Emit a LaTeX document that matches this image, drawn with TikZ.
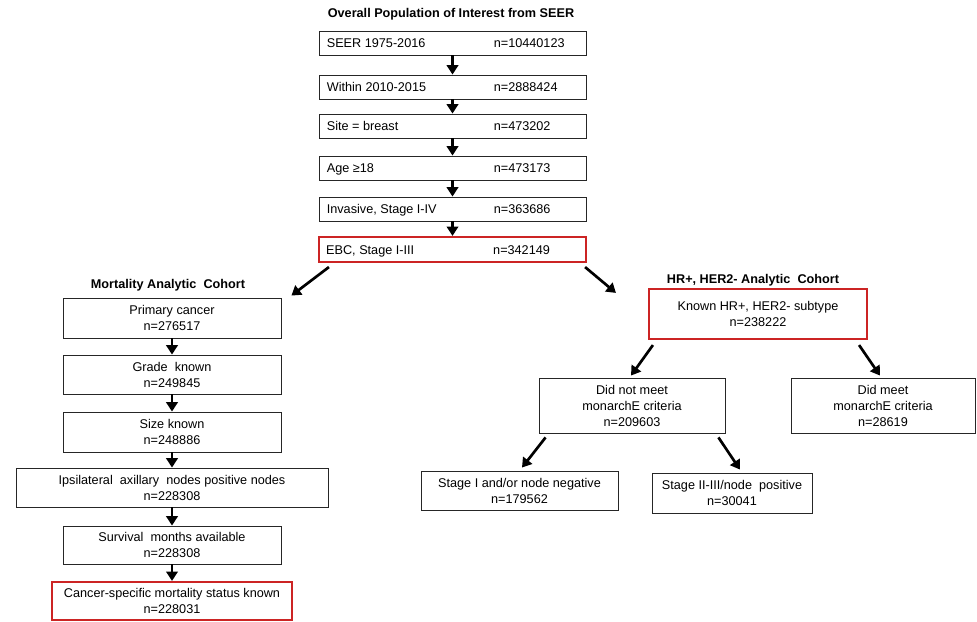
\documentclass[tikz,border=0pt]{standalone}
\usepackage{fontspec}
\setmainfont{Liberation Sans}
\usepackage{xcolor}
\definecolor{seerred}{RGB}{204,36,36}
\usetikzlibrary{arrows.meta, positioning, calc}
\newcommand{\px}{0.75pt}

\begin{document}
\begin{tikzpicture}[x=0.75pt, y=-0.75pt,
  font=\fontsize{9.5}{12}\selectfont,
  box/.style={draw=black!85, line width=0.65pt, inner sep=0pt, align=center},
  redbox/.style={box, draw=seerred, line width=1.6pt},
  cohort/.style={font=\fontsize{9.5}{12}\selectfont\bfseries, inner sep=0pt},
  lt/.style={anchor=base west, inner sep=0pt},
  arr/.style={-{Triangle[length=7pt,width=8.5pt]}, line width=2pt}]
  \useasboundingbox (0,0) rectangle (977,621);

  % Overall population -- top column
  \node[cohort] (overall) at (451,14) {Overall Population of Interest from SEER};
  \node[box, minimum width=267*\px, minimum height=24*\px] (seer)   at (452.5,43)    {};
  \node[box, minimum width=267*\px, minimum height=24*\px] (within) at (452.5,87)    {};
  \node[box, minimum width=267*\px, minimum height=24*\px] (site)   at (452.5,126)   {};
  \node[box, minimum width=267*\px, minimum height=24*\px] (age)    at (452.5,168)   {};
  \node[box, minimum width=267*\px, minimum height=24*\px] (inv)    at (452.5,209)   {};
  \node[redbox, minimum width=267*\px, minimum height=25*\px] (ebc) at (452.5,249.5) {};

  \node[lt] at ($(seer.west)+(8,4.5)$)     {SEER 1975-2016};
  \node[lt] at ($(seer.west)+(175,4.5)$)   {n=10440123};
  \node[lt] at ($(within.west)+(8,4.5)$)   {Within 2010-2015};
  \node[lt] at ($(within.west)+(175,4.5)$) {n=2888424};
  \node[lt] at ($(site.west)+(8,4.5)$)     {Site = breast};
  \node[lt] at ($(site.west)+(175,4.5)$)   {n=473202};
  \node[lt] at ($(age.west)+(8,4.5)$)      {Age ≥18};
  \node[lt] at ($(age.west)+(175,4.5)$)    {n=473173};
  \node[lt] at ($(inv.west)+(8,4.5)$)      {Invasive,\ Stage I-IV};
  \node[lt] at ($(inv.west)+(175,4.5)$)    {n=363686};
  \node[lt] at ($(ebc.west)+(8,4.5)$)      {EBC, Stage I-III};
  \node[lt] at ($(ebc.west)+(175,4.5)$)    {n=342149};

  \draw[arr] (seer.south)   -- (within.north);
  \draw[arr] (within.south) -- (site.north);
  \draw[arr] (site.south)   -- (age.north);
  \draw[arr] (age.south)    -- (inv.north);
  \draw[arr] (inv.south)    -- (ebc.north);

  % Mortality analytic cohort -- left column
  \node[cohort] (mort) at (168,285) {Mortality Analytic\ \ Cohort};
  \node[box, minimum width=218*\px, minimum height=40*\px] (prim)  at (172,318)   {Primary cancer\\n=276517};
  \node[box, minimum width=218*\px, minimum height=39*\px] (grade) at (172,374.5) {Grade\ \ known\\n=249845};
  \node[box, minimum width=218*\px, minimum height=40*\px] (size)  at (172,432)   {Size known\\n=248886};
  \node[box, minimum width=312*\px, minimum height=39*\px] (ipsi)  at (172,487.5) {Ipsilateral\ \ axillary\ \ nodes positive nodes\\n=228308};
  \node[box, minimum width=218*\px, minimum height=38*\px] (surv)  at (172,545)   {Survival\ \ months available\\n=228308};
  \node[redbox, minimum width=240*\px, minimum height=38*\px] (csm) at (172,601)  {Cancer-specific mortality status known\\n=228031};

  \draw[arr] (prim.south)  -- (grade.north);
  \draw[arr] (grade.south) -- (size.north);
  \draw[arr] (size.south)  -- (ipsi.north);
  \draw[arr] (ipsi.south)  -- (surv.north);
  \draw[arr] (surv.south)  -- (csm.north);

  % HR+, HER2- analytic cohort -- right side
  \node[cohort] (hrt) at (753,280) {HR+, HER2- Analytic\ \ Cohort};
  \node[redbox, minimum width=218*\px, minimum height=50*\px] (hr) at (758,314) {Known HR+, HER2- subtype\\n=238222};
  \node[box, minimum width=186*\px, minimum height=55*\px] (dnm)  at (632,405.5) {Did not meet\\monarchE criteria\\n=209603};
  \node[box, minimum width=184*\px, minimum height=55*\px] (dm)   at (883,405.5) {Did meet\\monarchE criteria\\n=28619};
  \node[box, minimum width=197*\px, minimum height=39*\px] (st1)  at (519.5,490.5) {Stage I and/or node negative\\n=179562};
  \node[box, minimum width=160*\px, minimum height=40*\px] (st23) at (732,493) {Stage II-III/node\ \ positive\\n=30041};

  % Split arrows
  \draw[arr] ($(ebc.south west)+(11,4)$)  -- ($(prim.north east)+(10,-2)$);
  \draw[arr] ($(ebc.south east)+(-2,4)$)  -- ($(hr.north west)+(-32,5)$);
  \draw[arr] ($(hr.south west)+(5,5)$)    -- ($(dnm.north)+(-1,-2)$);
  \draw[arr] ($(hr.south east)+(-9,5)$)   -- ($(dm.north)+(-3,-2)$);
  \draw[arr] ($(dnm.south west)+(7,4)$)   -- ($(st1.north)+(2.5,-3)$);
  \draw[arr] ($(dnm.south east)+(-7,4)$)  -- ($(st23.north)+(8,-3)$);
\end{tikzpicture}
\end{document}
